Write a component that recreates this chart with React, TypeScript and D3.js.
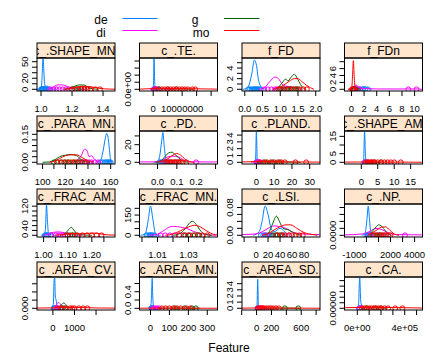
import React from 'react';
import * as d3 from 'd3';

type Pt = [number, number];

// groups and their lattice colours
const groups = ['de', 'di', 'g', 'mo'];
const groupColors = ['#0080ff', '#ff00ff', '#006400', '#ff0000'];

const panelNames = [
  'c_.SHAPE_MN.', 'c_.TE.', 'f_FD', 'f_FDn',
  'c_.PARA_MN.', 'c_.PD.', 'c_.PLAND.', 'c_.SHAPE_AM.',
  'c_.FRAC_AM.', 'c_.FRAC_MN.', 'c_.LSI.', 'c_.NP.',
  'c_.AREA_CV.', 'c_.AREA_MN.', 'c_.AREA_SD.', 'c_.CA.',
];

// free scales per panel
const xDomains: Pt[] = [
  [0.974, 1.477], [-4.72e6, 2.22e7], [-0.078, 2.12], [-1.1, 11.25],
  [95.1, 163.8], [-0.093, 0.31], [-8.1, 35.8], [-5.1, 18.6],
  [0.9727, 1.296], [0.9984, 1.0487], [-23.5, 106.7], [-1820, 4656],
  [-737, 2878], [-58, 354], [-196, 852], [-108000, 550000],
];
const yDomains: Pt[] = [
  [-3.1, 56.7], [-4.8e-8, 8.85e-7], [-0.32, 5.88], [-0.49, 9.07],
  [-0.0091, 0.1677], [-1.93, 35.6], [-0.25, 4.6], [-0.98, 18.1],
  [-7, 129], [-12.6, 232], [-0.0049, 0.09], [-0.000122, 0.00225],
  [-0.00021, 0.00383], [-0.041, 0.756], [-0.28, 5.08], [-6.2e-7, 1.13e-5],
];

const xTicks: number[][] = [
  [1.0, 1.2, 1.4], [0, 5e6, 1e7, 1.5e7, 2e7], [0, 0.5, 1, 1.5, 2], [0, 2, 4, 6, 8, 10],
  [100, 110, 120, 130, 140, 150, 160], [0, 0.1, 0.2, 0.3], [0, 10, 20, 30], [0, 5, 10, 15],
  [1.0, 1.05, 1.1, 1.15, 1.2, 1.25], [1.0, 1.01, 1.02, 1.03, 1.04], [-20, 0, 20, 40, 60, 80], [-1000, 0, 1000, 2000, 3000, 4000],
  [0, 1000, 2000], [0, 100, 200, 300], [-200, 0, 200, 400, 600, 800], [0, 1e5, 2e5, 3e5, 4e5, 5e5],
];
const xTickLabels: string[][] = [
  ['1.0', '1.2', '1.4'], ['0', '', '10000000', '', ''], ['0.0', '0.5', '1.0', '1.5', '2.0'], ['0', '2', '4', '6', '8', '10'],
  ['100', '', '120', '', '140', '', '160'], ['0.0', '0.1', '0.2', ''], ['0', '10', '20', '30'], ['0', '5', '10', '15'],
  ['1.00', '', '1.10', '', '1.20', ''], ['', '1.01', '', '1.03', ''], ['', '0', '20', '40', '60', '80'], ['-1000', '', '', '2000', '', '4000'],
  ['0', '1000', ''], ['0', '100', '200', '300'], ['', '0', '200', '', '600', ''], ['0e+00', '', '', '', '4e+05', ''],
];

const yTicks: number[][] = [
  [0, 10, 20, 30, 40, 50], [0, 2e-7, 4e-7, 6e-7, 8e-7], [0, 1, 2, 3, 4, 5], [0, 2, 4, 6, 8],
  [0, 0.03, 0.06, 0.09, 0.12, 0.15], [0, 10, 20, 30], [0, 1, 2, 3, 4], [0, 5, 10, 15],
  [0, 20, 40, 60, 80, 100, 120], [0, 50, 100, 150, 200], [0, 0.02, 0.04, 0.06, 0.08], [0, 0.0005, 0.001, 0.0015, 0.002],
  [0, 0.001, 0.002, 0.003], [0, 0.2, 0.4, 0.6], [0, 1, 2, 3, 4], [0, 2e-6, 4e-6, 6e-6, 8e-6, 1e-5],
];
const yTickLabels: string[][] = [
  ['0', '', '20', '', '', '50'], ['0.0e+00', '', '', '', ''], ['0', '', '2', '', '4', ''], ['0', '2', '4', '6', ''],
  ['0.00', '', '', '', '', '0.15'], ['0', '', '20', ''], ['0', '1', '2', '3', '4'], ['0', '5', '', '15'],
  ['0', '', '40', '', '', '', '120'], ['0', '', '', '150', ''], ['0.00', '', '', '', '0.08'], ['0.0000', '', '', '', ''],
  ['0.000', '', '', ''], ['0.0', '', '0.4', ''], ['0', '1', '2', '3', '4'], ['0.00000', '', '', '', '', ''],
];

// density curves, one list per panel
const deCurves: Pt[][] = [
  [[0.975, 0], [0.995, 0.5], [1.003, 6], [1.008, 30], [1.013, 56], [1.018, 35], [1.023, 10], [1.03, 5], [1.04, 6], [1.05, 3], [1.07, 0.5], [1.1, 0]],
  [[-1e6, 0], [0, 1e-8], [1.5e5, 3e-7], [3e5, 8.8e-7], [4.5e5, 4e-7], [6e5, 1e-7], [9e5, 2e-8], [1.5e6, 0]],
  [[-0.05, 0], [0.05, 0.1], [0.12, 0.8], [0.2, 3], [0.27, 5.5], [0.33, 4.5], [0.38, 2], [0.43, 0.8], [0.5, 0.2], [0.6, 0]],
  [[0, 0], [0.5, 0.5], [1.0, 0.6], [1.5, 0.5], [2.0, 0.8], [2.5, 0.4], [3.2, 0]],
  [[148, 0], [151, 0.01], [153, 0.05], [155, 0.12], [156.5, 0.155], [158, 0.12], [159.2, 0.05], [160, 0.01], [161, 0]],
  [[-0.02, 0], [0, 0.5], [0.012, 8], [0.022, 25], [0.028, 34], [0.034, 20], [0.042, 5], [0.05, 1], [0.06, 0]],
  [[-1.5, 0], [-0.5, 0.2], [0, 4.6], [0.5, 0.2], [1.5, 0]],
  [[0, 0], [0.7, 1], [1.0, 18], [1.3, 3], [1.6, 0.5], [2.5, 0]],
  [[0.99, 0], [1.003, 3], [1.008, 30], [1.012, 125], [1.016, 60], [1.02, 10], [1.025, 6], [1.03, 8], [1.035, 3], [1.05, 0]],
  [[0.999, 0], [1.002, 10], [1.004, 110], [1.0055, 216], [1.007, 120], [1.0085, 20], [1.01, 2], [1.012, 0]],
  [[-5, 0], [5, 0.01], [10, 0.04], [15, 0.084], [20, 0.06], [25, 0.02], [30, 0.01], [40, 0.02], [48, 0.01], [55, 0]],
  [[-400, 0], [-100, 0.0002], [50, 0.0012], [150, 0.0021], [250, 0.0012], [350, 0.0003], [500, 0.0001], [700, 0]],
  [[-100, 0], [20, 0.0005], [60, 0.0036], [85, 0.0037], [110, 0.0015], [150, 0.001], [200, 0.0003], [300, 0]],
  [[-10, 0], [3, 0.1], [6, 0.4], [9, 0.72], [12, 0.3], [16, 0.05], [22, 0]],
  [[-20, 0], [5, 0.2], [15, 4.7], [25, 0.2], [40, 0]],
  [[-10000, 0], [10000, 1e-6], [20000, 1.13e-5], [30000, 2e-6], [50000, 0]],
];
const diCurves: Pt[][] = [
  [[1.04, 0], [1.07, 2], [1.09, 6], [1.11, 8], [1.14, 8], [1.17, 5], [1.2, 1.5], [1.24, 0.3], [1.3, 0]],
  [[-1e6, 0], [5e5, 3e-8], [1e6, 5e-8], [2e6, 3e-8], [4e6, 5e-9], [7e6, 0]],
  [[0.4, 0], [0.55, 0.3], [0.7, 1.4], [0.85, 2.3], [0.95, 2.0], [1.05, 1.0], [1.15, 0.6], [1.3, 0.5], [1.45, 0.2], [1.6, 0]],
  [[-0.5, 0], [0.3, 0.5], [0.7, 1.3], [1.2, 0.5], [2, 0.2], [4, 0.1], [10.5, 0.1], [11.2, 0]],
  [[125, 0], [130, 0.01], [134, 0.035], [137, 0.07], [139, 0.065], [141, 0.03], [143, 0.035], [146, 0.015], [149, 0.003], [152, 0]],
  [[-0.09, 0.4], [-0.02, 0.5], [0.02, 2], [0.05, 6], [0.08, 7], [0.11, 6], [0.14, 2], [0.18, 0.6], [0.25, 0.4], [0.31, 0.4]],
  [[-3, 0], [0, 0.2], [2, 0.3], [5, 0.05], [8, 0]],
  [[0, 0], [1.5, 0.3], [3, 0.2], [6, 0]],
  [[1.0, 0], [1.02, 5], [1.04, 12], [1.06, 14], [1.08, 12], [1.1, 5], [1.13, 1], [1.16, 0]],
  [[1.005, 0], [1.01, 8], [1.014, 35], [1.018, 62], [1.021, 66], [1.025, 60], [1.029, 50], [1.033, 30], [1.038, 12], [1.044, 3], [1.048, 0]],
  [[-23.5, 0.002], [0, 0.004], [10, 0.01], [20, 0.02], [30, 0.027], [40, 0.025], [50, 0.02], [60, 0.01], [75, 0.004], [106, 0.002]],
  [[-1800, 0.00003], [-300, 0.0001], [300, 0.0003], [800, 0.0005], [1300, 0.0004], [1800, 0.0002], [2500, 0.00005], [4600, 0.00003]],
  [[50, 0], [150, 0.0004], [250, 0.0007], [350, 0.0005], [450, 0.0002], [600, 0]],
  [[0, 0], [10, 0.02], [25, 0.03], [40, 0.02], [60, 0]],
  [[0, 0], [40, 0.1], [100, 0.05], [200, 0]],
  [[0, 0], [20000, 5e-7], [60000, 3e-7], [120000, 0]],
];
const gCurves: Pt[][] = [
  [[1.15, 0], [1.19, 2], [1.22, 6], [1.25, 8], [1.28, 7.5], [1.3, 4], [1.33, 1], [1.37, 0]],
  [[0, 0], [2e6, 2e-8], [5e6, 1.5e-8], [1e7, 1e-8], [1.4e7, 0]],
  [[0.85, 0], [0.95, 0.4], [1.05, 1.2], [1.15, 1.9], [1.22, 1.6], [1.32, 2.4], [1.4, 2.8], [1.5, 1.8], [1.6, 0.6], [1.7, 0]],
  [[0, 0], [0.3, 0.6], [0.6, 0.8], [1, 0.3], [1.5, 0]],
  [[100, 0], [106, 0.002], [110, 0.01], [115, 0.03], [120, 0.038], [125, 0.042], [130, 0.035], [134, 0.015], [138, 0.003], [142, 0]],
  [[-0.01, 0], [0.02, 2], [0.04, 7], [0.06, 11], [0.075, 11.5], [0.09, 9], [0.11, 5], [0.13, 1.5], [0.16, 0]],
  [[0, 0], [5, 0.05], [15, 0.05], [25, 0]],
  [[1, 0], [3, 0.1], [6, 0]],
  [[1.07, 0], [1.09, 8], [1.105, 25], [1.115, 33], [1.125, 22], [1.14, 6], [1.17, 1], [1.2, 0]],
  [[1.02, 0], [1.024, 10], [1.028, 50], [1.031, 95], [1.0325, 104], [1.035, 80], [1.038, 30], [1.041, 5], [1.045, 0]],
  [[15, 0], [22, 0.01], [28, 0.035], [34, 0.055], [39, 0.04], [45, 0.02], [55, 0.015], [65, 0.005], [75, 0]],
  [[200, 0], [500, 0.0003], [800, 0.0006], [1000, 0.00075], [1200, 0.0007], [1500, 0.0004], [1800, 0.0001], [2100, 0]],
  [[250, 0], [380, 0.0004], [500, 0.00065], [620, 0.0004], [750, 0.0001], [900, 0]],
  [[40, 0], [100, 0.005], [180, 0.005], [260, 0]],
  [[100, 0], [300, 0.03], [600, 0]],
  [[30000, 0], [120000, 2e-7], [250000, 0]],
];
const moCurves: Pt[][] = [
  [[1.15, 0], [1.2, 2], [1.25, 5], [1.29, 5.5], [1.33, 4], [1.37, 2], [1.41, 0.8], [1.45, 0.3], [1.477, 0.2]],
  [[-4.7e6, 5e-9], [0, 2e-8], [3e6, 2.5e-8], [8e6, 2e-8], [1.4e7, 1.5e-8], [2.2e7, 5e-9]],
  [[0.8, 0], [0.95, 0.3], [1.1, 0.8], [1.25, 1.5], [1.4, 2.0], [1.5, 2.0], [1.6, 1.5], [1.75, 0.7], [1.85, 0.3], [1.95, 0]],
  [[-0.5, 0], [0.05, 0.5], [0.2, 5], [0.3, 8.3], [0.4, 5], [0.55, 1], [0.8, 0.2], [1.2, 0]],
  [[106, 0], [110, 0.005], [115, 0.02], [120, 0.035], [125, 0.04], [130, 0.04], [135, 0.025], [140, 0.008], [145, 0]],
  [[0, 0], [0.03, 1.5], [0.06, 5], [0.085, 9], [0.1, 10], [0.12, 8], [0.14, 4], [0.16, 1], [0.19, 0]],
  [[-8, 0.05], [0, 0.1], [10, 0.08], [20, 0.05], [35.8, 0.03]],
  [[-5, 0.1], [2, 0.2], [6, 0.15], [12, 0.1], [18.6, 0.05]],
  [[1.05, 0], [1.09, 4], [1.12, 7], [1.15, 6], [1.18, 8], [1.21, 9], [1.24, 5], [1.27, 1.5], [1.296, 1]],
  [[1.015, 0], [1.02, 10], [1.025, 35], [1.03, 62], [1.034, 74], [1.038, 60], [1.042, 30], [1.046, 8], [1.0487, 3]],
  [[10, 0], [20, 0.005], [30, 0.015], [40, 0.025], [50, 0.03], [58, 0.03], [68, 0.02], [80, 0.008], [95, 0.002], [102, 0]],
  [[100, 0], [500, 0.0002], [900, 0.0004], [1300, 0.0006], [1600, 0.0006], [1900, 0.0004], [2300, 0.0001], [2700, 0]],
  [[-737, 0.00003], [0, 0.00005], [500, 0.0001], [1000, 0.0001], [1500, 0.00008], [2000, 0.00004], [2878, 0.00002]],
  [[-58, 0.002], [0, 0.004], [100, 0.006], [200, 0.004], [300, 0.002], [354, 0.001]],
  [[-196, 0.02], [0, 0.05], [200, 0.05], [400, 0.03], [600, 0.02], [852, 0.01]],
  [[-108000, 2e-7], [0, 3e-7], [200000, 3e-7], [400000, 2e-7], [550000, 1e-7]],
];

// raw observations drawn as open circles on the baseline
const dePoints: number[][] = [
  [1.0, 1.005, 1.01, 1.012, 1.015, 1.02, 1.025, 1.03, 1.04, 1.05],
  [2e5, 3e5, 4e5, 5e5],
  [0.1, 0.15, 0.2, 0.25, 0.28, 0.3, 0.33, 0.36, 0.4, 0.45],
  [0.6, 1.0, 1.4, 1.8, 2.2, 2.6],
  [151, 153, 155, 156, 157, 158, 159, 160],
  [0.01, 0.02, 0.025, 0.03, 0.035, 0.04],
  [0, 0.1],
  [1.0, 1.2],
  [1.005, 1.01, 1.012, 1.015, 1.02, 1.03],
  [1.003, 1.004, 1.005, 1.0055, 1.006, 1.007, 1.008],
  [8, 12, 15, 18, 22, 26],
  [0, 100, 150, 200, 300],
  [40, 70, 100],
  [5, 8, 10, 12],
  [10, 20],
  [15000, 25000],
];
const diPoints: number[][] = [
  [1.06, 1.08, 1.1, 1.12, 1.14, 1.16, 1.18],
  [3e5, 8e5, 1.5e6, 2e6],
  [0.55, 0.65, 0.75, 0.85, 0.9, 1.0, 1.1, 1.2],
  [0.5, 0.9, 1.3, 9.0, 10.3],
  [132, 135, 137, 139, 141, 143, 146, 149],
  [0.03, 0.06, 0.1, 0.2],
  [0.2, 0.5, 1, 1.5],
  [1.2, 2, 3],
  [1.03, 1.05, 1.06, 1.07, 1.08, 1.09],
  [1.012, 1.015, 1.018, 1.021, 1.024, 1.027, 1.03],
  [15, 25, 35, 45, 55],
  [300, 700, 1100, 1500, 3200],
  [150, 250, 350],
  [15, 25, 35, 45],
  [20, 50, 80],
  [20000, 40000],
];
const gPoints: number[][] = [
  [1.2, 1.22, 1.24, 1.26, 1.28],
  [2e6, 5e6, 8e6],
  [1.0, 1.1, 1.2, 1.3, 1.4, 1.45, 1.5],
  [0.3, 0.6],
  [110, 113, 117, 120, 123, 127, 130, 133],
  [0.05, 0.07, 0.09, 0.11],
  [5, 9, 13],
  [4, 6],
  [1.1, 1.11, 1.12, 1.13],
  [1.028, 1.031, 1.034, 1.037],
  [28, 32, 36, 40, 44],
  [600, 900, 1100, 1300],
  [450, 550],
  [130, 180, 220, 240],
  [380, 560],
  [80000, 150000, 200000],
];
const moPoints: number[][] = [
  [1.2, 1.23, 1.26, 1.28, 1.3, 1.32, 1.35, 1.38],
  [1e6, 3e6, 4e6, 5e6, 6e6, 7e6, 8e6, 9e6, 1e7, 1.1e7, 1.2e7, 1.35e7, 1.45e7],
  [0.95, 1.05, 1.15, 1.25, 1.35, 1.45, 1.55, 1.65, 1.75],
  [0.1, 0.2, 0.25, 0.3, 0.35, 0.45],
  [113, 116, 119, 122, 125, 128, 131, 135, 138],
  [0.04, 0.05, 0.06, 0.07, 0.08, 0.09, 0.1, 0.11, 0.12, 0.13, 0.15],
  [2, 4, 6, 8, 10, 12, 14, 16, 22, 28],
  [1.5, 2, 2.5, 3, 3.5, 4, 5, 6, 7, 8, 9, 10, 12],
  [1.1, 1.12, 1.14, 1.16, 1.18, 1.2, 1.22, 1.24],
  [1.024, 1.027, 1.03, 1.033, 1.036, 1.039, 1.042],
  [35, 42, 48, 55, 60, 66, 72, 78],
  [500, 800, 1000, 1200, 1400, 1600, 1800, 2000],
  [200, 400, 600, 800, 900, 1000, 1200, 1400, 1600],
  [60, 80, 100, 120, 140, 160, 190, 210],
  [20, 40, 60, 80, 100, 130, 160, 190, 220, 260, 300],
  [40000, 60000, 80000, 100000, 120000, 140000, 160000, 180000, 200000, 230000, 260000, 320000, 380000],
];

const curveSets = [deCurves, diCurves, gCurves, moCurves];
const pointSets = [dePoints, diPoints, gPoints, moPoints];

const font = '"Liberation Sans", Arial, sans-serif';

export default function App() {
  const width = 434;
  const height = 364;
  const panelW = 78;
  const panelH = 33;
  const stripH = 15;

  const panels = panelNames.map((name, i) => {
    const r = Math.floor(i / 4);
    const c = i % 4;
    const left = 37 + c * 102.5;
    const top = 58 + r * 73;
    const x = d3.scaleLinear().domain(xDomains[i]).range([left, left + panelW]);
    const y = d3.scaleLinear().domain(yDomains[i]).range([top + panelH, top]);
    const line = d3
      .line<Pt>()
      .x((d) => x(d[0]))
      .y((d) => y(d[1]))
      .curve(d3.curveMonotoneX);
    const inX = (v: number) => x(v) >= left - 0.5 && x(v) <= left + panelW + 0.5;
    const inY = (v: number) => y(v) >= top - 0.5 && y(v) <= top + panelH + 0.5;

    return (
      <g key={name}>
        <defs>
          <clipPath id={`pc${i}`}>
            <rect x={left} y={top} width={panelW} height={panelH} />
          </clipPath>
          <clipPath id={`sc${i}`}>
            <rect x={left} y={top - stripH} width={panelW} height={stripH} />
          </clipPath>
        </defs>
        {/* strip */}
        <rect x={left} y={top - stripH} width={panelW} height={stripH} fill="#ffe5cc" stroke="none" />
        <text
          x={left + panelW / 2}
          y={top - 3}
          textAnchor="middle"
          fontSize={12}
          clipPath={`url(#sc${i})`}
        >
          {name}
        </text>
        <rect x={left} y={top - stripH} width={panelW} height={stripH} fill="none" stroke="#000" />

        {/* groups */}
        <g clipPath={`url(#pc${i})`}>
          {groups.map((gname, gi) => (
            <g key={gname}>
              {pointSets[gi][i].map((v, k) => (
                <circle key={k} cx={x(v)} cy={y(0)} r={2.4} fill="none" stroke={groupColors[gi]} strokeWidth={1} />
              ))}
              <path d={line(curveSets[gi][i]) || ''} fill="none" stroke={groupColors[gi]} strokeWidth={1} />
            </g>
          ))}
        </g>
        <rect x={left} y={top} width={panelW} height={panelH} fill="none" stroke="#000" />

        {/* x axis */}
        {xTicks[i].map((t, k) =>
          inX(t) ? (
            <g key={`x${k}`}>
              <line x1={x(t)} x2={x(t)} y1={top + panelH} y2={top + panelH + 5} stroke="#000" />
              {xTickLabels[i][k] && (
                <text x={x(t)} y={top + panelH + 20.5} textAnchor="middle" fontSize={9.5}>
                  {xTickLabels[i][k]}
                </text>
              )}
            </g>
          ) : null,
        )}

        {/* y axis */}
        {yTicks[i].map((t, k) =>
          inY(t) ? (
            <g key={`y${k}`}>
              <line x1={left - 5} x2={left} y1={y(t)} y2={y(t)} stroke="#000" />
              {yTickLabels[i][k] && (
                <text
                  transform={`translate(${left - 12.5},${y(t)}) rotate(-90)`}
                  textAnchor="middle"
                  dominantBaseline="central"
                  fontSize={9.5}
                >
                  {yTickLabels[i][k]}
                </text>
              )}
            </g>
          ) : null,
        )}
      </g>
    );
  });

  // legend, two columns
  const legendText = [
    { x: 101, y: 24 },
    { x: 101, y: 37 },
    { x: 195, y: 24 },
    { x: 201, y: 37 },
  ];
  const legendLine = [
    { x1: 122.5, x2: 157.5, y: 18.5 },
    { x1: 122.5, x2: 157.5, y: 30.5 },
    { x1: 224, x2: 259.5, y: 18.5 },
    { x1: 224, x2: 259.5, y: 30.5 },
  ];

  return (
    <svg
      width={width}
      height={height}
      style={{ position: 'absolute', left: 0, top: 0, background: '#fff' }}
      fontFamily={font}
    >
      <rect width={width} height={height} fill="#fff" />
      {groups.map((gname, gi) => (
        <g key={gname}>
          <text x={legendText[gi].x} y={legendText[gi].y} textAnchor="middle" fontSize={12}>
            {gname}
          </text>
          <line
            x1={legendLine[gi].x1}
            x2={legendLine[gi].x2}
            y1={legendLine[gi].y}
            y2={legendLine[gi].y}
            stroke={groupColors[gi]}
          />
        </g>
      ))}
      {panels}
      <text x={229} y={352} textAnchor="middle" fontSize={12}>
        Feature
      </text>
    </svg>
  );
}
